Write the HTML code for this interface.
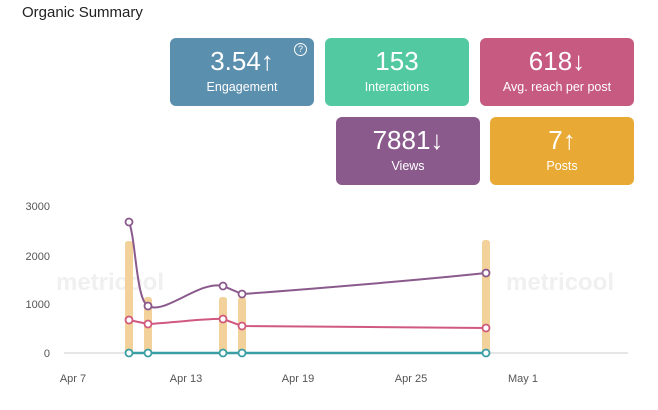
<!DOCTYPE html>
<html><head><style>
body{margin:0;width:658px;height:410px;background:#fff;font-family:"Liberation Sans",sans-serif;position:relative;overflow:hidden}
.t{position:absolute;left:22px;top:4px;font-size:15px;color:#222}
.c{position:absolute;width:144px;height:68px;border-radius:6px;color:#fff;text-align:center}
.c .v{font-size:26px;margin-top:8px;line-height:30px}
.c .l{font-size:12.5px;margin-top:4px}
</style></head><body>
<div class="t">Organic Summary</div>
<div class="c" style="left:170px;top:38px;background:#5b8fae"><div class="v">3.54↑</div><div class="l">Engagement</div>
<div style="position:absolute;right:7px;top:5px;width:11px;height:11px;border:1px solid #fff;border-radius:50%;font-size:9px;line-height:11px">?</div></div>
<div class="c" style="left:325px;top:38px;background:#52c9a0"><div class="v">153</div><div class="l">Interactions</div></div>
<div class="c" style="left:480px;top:38px;width:154px;background:#c75a80"><div class="v">618↓</div><div class="l">Avg. reach per post</div></div>
<div class="c" style="left:336px;top:117px;background:#8b5a8c"><div class="v">7881↓</div><div class="l">Views</div></div>
<div class="c" style="left:490px;top:117px;background:#e8a935"><div class="v">7↑</div><div class="l">Posts</div></div>
<svg width="658" height="410" style="position:absolute;left:0;top:0" font-family="Liberation Sans,sans-serif">
<text x="110" y="290" font-size="24" font-weight="bold" fill="#f0f0f0" text-anchor="middle">metricool</text>
<text x="560" y="290" font-size="24" font-weight="bold" fill="#f0f0f0" text-anchor="middle">metricool</text>
<g font-size="11" fill="#555" text-anchor="end">
<text x="50" y="210">3000</text><text x="50" y="260">2000</text><text x="50" y="308">1000</text><text x="50" y="357">0</text></g>
<line x1="64" y1="353" x2="628" y2="353" stroke="#ddd" stroke-width="1.5"/>
<g font-size="11" fill="#555" text-anchor="middle">
<text x="73" y="382">Apr 7</text><text x="186" y="382">Apr 13</text><text x="298" y="382">Apr 19</text><text x="411" y="382">Apr 25</text><text x="523" y="382">May 1</text></g>
<g fill="#f2d19a">
<rect x="125" y="241" width="8" height="112" rx="3"/><rect x="144" y="297" width="8" height="56" rx="3"/>
<rect x="219" y="297" width="8" height="56" rx="3"/><rect x="238" y="297" width="8" height="56" rx="3"/>
<rect x="482" y="240" width="8" height="113" rx="3"/></g>
<path d="M129,222 C136,240 136,300 148,306 C165,315 200,280 223,286 L242,294 C300,290 420,280 486,273" fill="none" stroke="#8b5a8c" stroke-width="2"/>
<path d="M129,320 L148,324 C180,322 210,318 223,319 L242,326 C300,327 420,327 486,328" fill="none" stroke="#d0597f" stroke-width="2"/>
<path d="M129,353 L486,353" stroke="#3b9ea5" stroke-width="2.5"/>
<g fill="#fff" stroke-width="1.8">
<g stroke="#8b5a8c"><circle cx="129" cy="222" r="3.5"/><circle cx="148" cy="306" r="3.5"/><circle cx="223" cy="286" r="3.5"/><circle cx="242" cy="294" r="3.5"/><circle cx="486" cy="273" r="3.5"/></g>
<g stroke="#d0597f"><circle cx="129" cy="320" r="3.5"/><circle cx="148" cy="324" r="3.5"/><circle cx="223" cy="319" r="3.5"/><circle cx="242" cy="326" r="3.5"/><circle cx="486" cy="328" r="3.5"/></g>
<g stroke="#3b9ea5"><circle cx="129" cy="353" r="3.5"/><circle cx="148" cy="353" r="3.5"/><circle cx="223" cy="353" r="3.5"/><circle cx="242" cy="353" r="3.5"/><circle cx="486" cy="353" r="3.5"/></g>
</g>
</svg>
</body></html>
